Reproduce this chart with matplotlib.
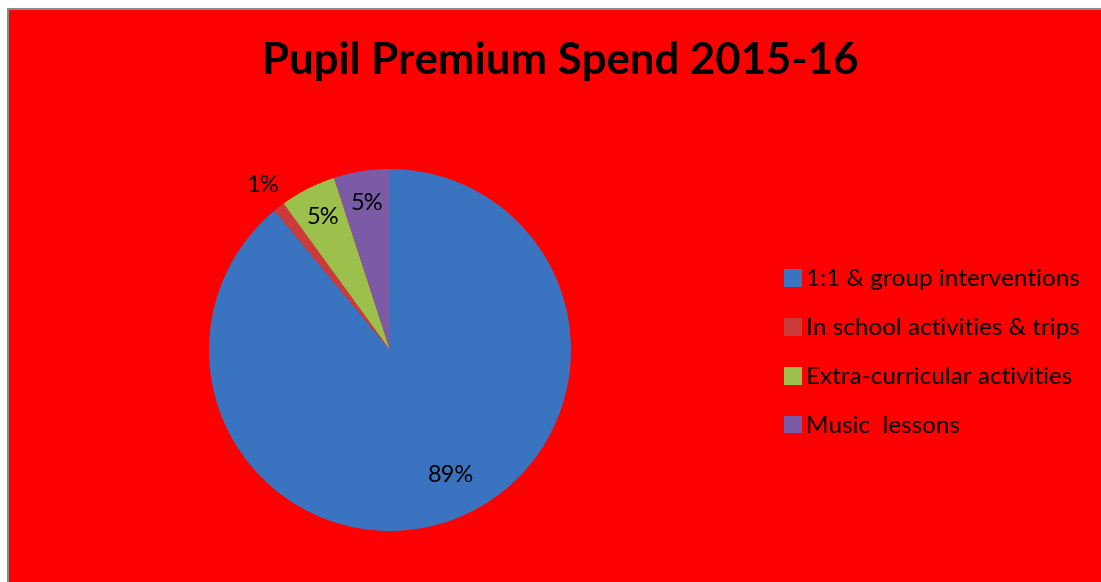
import matplotlib.pyplot as plt
from matplotlib.patches import Rectangle
import numpy as np

plt.rcParams["font.family"] = ["Lato", "DejaVu Sans"]

categories = ["1:1 & group interventions", "In school activities & trips",
              "Extra-curricular activities", "Music  lessons"]
shares = [89, 1, 5, 5]
colors = ["#3a74c0", "#cc3b3b", "#9cc04c", "#7b5ba6"]
title = "Pupil Premium Spend 2015-16"

W, H = 1101, 582
fig = plt.figure(figsize=(W / 100, H / 100), dpi=100, facecolor="white")

# red chart area with grey border
fig.patches.append(Rectangle((8 / W, -0.02), 1.02, (H - 8.5) / H + 0.02,
                             transform=fig.transFigure, facecolor="#ff0000",
                             edgecolor="#8c8c8c", linewidth=1.5, zorder=-5))

cx, cy, r = 390, 350, 181
ax = fig.add_axes([(cx - r) / W, (H - cy - r) / H, 2 * r / W, 2 * r / H])
ax.set_zorder(2)
ax.set_facecolor("none")

wedges, _, pcts = ax.pie(shares, colors=colors, startangle=90, counterclock=False,
                         radius=1, autopct="%d%%", pctdistance=0.82,
                         wedgeprops=dict(linewidth=0),
                         textprops=dict(fontsize=17, color="black"))
ax.set_xlim(-1, 1)
ax.set_ylim(-1, 1)

# Excel "best fit" placements
for w, t in zip(wedges, pcts):
    mid = np.deg2rad((w.theta1 + w.theta2) / 2)
    share = (w.theta2 - w.theta1) / 360
    if share > 0.5:
        d, mid = 0.77, mid + np.deg2rad(6)
    elif share < 0.03:
        d = 1.15
    else:
        d = 0.82
    t.set_position((d * np.cos(mid), d * np.sin(mid)))

fig.text(560 / W, 1 - 61 / H, title, ha="center", va="center",
         fontsize=31.5, fontweight="bold")

fig.legend(wedges, categories, loc="center left",
           bbox_to_anchor=(784 / W, 1 - 353 / H), frameon=False,
           borderpad=0, borderaxespad=0,
           fontsize=17.5, handlelength=0.75, handleheight=0.75,
           handletextpad=0.15, labelspacing=1.13)

fig.savefig("out.png", dpi=100, facecolor=fig.get_facecolor())
